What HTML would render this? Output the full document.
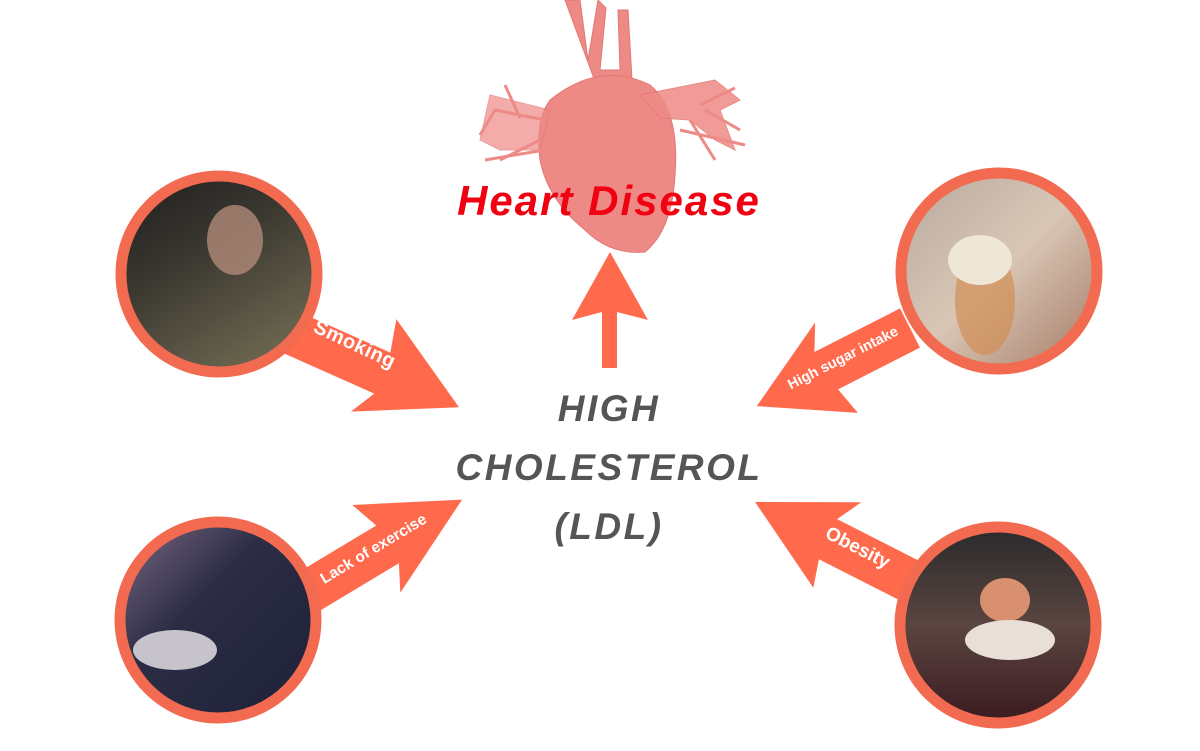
<!DOCTYPE html>
<html><head><meta charset="utf-8"><style>
html,body{margin:0;padding:0;background:#fff;}
svg{display:block;}
</style></head><body>
<svg width="1200" height="751" viewBox="0 0 1200 751" xmlns="http://www.w3.org/2000/svg">
<defs>
<linearGradient id="g1" x1="0" y1="0" x2="0.6" y2="1"><stop offset="0" stop-color="#1e1e1e"/><stop offset="0.45" stop-color="#3a3730"/><stop offset="1" stop-color="#6b654f"/></linearGradient>
<linearGradient id="g2" x1="0" y1="0" x2="1" y2="1"><stop offset="0" stop-color="#b8aaa0"/><stop offset="0.5" stop-color="#d9c6b5"/><stop offset="1" stop-color="#a57a65"/></linearGradient>
<linearGradient id="g3" x1="0" y1="0" x2="1" y2="1"><stop offset="0" stop-color="#7d6a85"/><stop offset="0.4" stop-color="#2c2d45"/><stop offset="1" stop-color="#1c2036"/></linearGradient>
<linearGradient id="g4" x1="0" y1="0" x2="0" y2="1"><stop offset="0" stop-color="#2a2a2c"/><stop offset="0.5" stop-color="#5a4540"/><stop offset="1" stop-color="#3a1a20"/></linearGradient>
</defs>
<!-- heart -->
<g fill="#ee8a86" stroke="#e27874" stroke-width="1">
<path d="M565 0 L580 0 L588 60 L598 0 L606 8 L600 70 L620 70 L618 10 L628 10 L632 80 L600 95 Z"/>
<path d="M550 100 Q600 60 650 85 Q680 110 675 175 Q672 230 645 252 Q610 255 585 230 Q548 200 540 160 Q535 120 550 100 Z"/>
<path d="M640 95 L715 80 L740 100 L720 110 L735 150 L715 140 L690 120 L660 118 Z" opacity="0.85"/>
<path d="M550 110 L490 95 L480 140 L500 150 L540 150 Z" opacity="0.7"/>
</g>
<g stroke="#ee8a86" stroke-width="3" fill="none">
<path d="M545 120 L495 110 L480 135"/><path d="M540 140 L500 160"/><path d="M520 118 L505 85"/>
<path d="M700 105 L735 88"/><path d="M705 110 L740 130"/><path d="M690 120 L715 160"/>
<path d="M545 150 L485 160"/><path d="M680 130 L745 145"/>
</g>
<text x="609" y="215" text-anchor="middle" font-family="Liberation Sans, sans-serif" font-weight="bold" font-style="italic" font-size="42" fill="#f00010" letter-spacing="2">Heart Disease</text>
<!-- up arrow -->
<polygon fill="#ff6a4d" points="610,252 648,320 617,312 617,368 602,368 602,312 572,320"/>
<!-- side arrows -->
<g fill="#ff6a4d">
<g transform="translate(290,332) rotate(24)"><polygon points="0,-22 100,-22 92,-55 185,0 88,48 102,22 0,22"/></g>
<g transform="translate(910,328) rotate(153)"><polygon points="0,-22 92,-22 85,-52 172,0 82,48 96,22 0,22"/></g>
<g transform="translate(295,600) rotate(-31)"><polygon points="0,-22 108,-22 98,-52 195,0 94,48 108,22 0,22"/></g>
<g transform="translate(918,585) rotate(-153)"><polygon points="0,-22 100,-22 92,-50 183,0 88,48 102,22 0,22"/></g>
</g>
<g font-family="Liberation Sans, sans-serif" font-weight="bold" fill="#fff">
<text transform="translate(352,350) rotate(25)" text-anchor="middle" font-size="20" letter-spacing="0.5">Smoking</text>
<text transform="translate(845,362) rotate(-27)" text-anchor="middle" font-size="14.5">High sugar intake</text>
<text transform="translate(376,553) rotate(-31)" text-anchor="middle" font-size="15.5">Lack of exercise</text>
<text transform="translate(855,553) rotate(27)" text-anchor="middle" font-size="19">Obesity</text>
</g>
<!-- circles -->
<circle cx="219" cy="274" r="98" fill="url(#g1)" stroke="#f26a4f" stroke-width="11"/>
<circle cx="999" cy="271" r="98" fill="url(#g2)" stroke="#f26a4f" stroke-width="11"/>
<circle cx="218" cy="620" r="98" fill="url(#g3)" stroke="#f26a4f" stroke-width="11"/>
<circle cx="998" cy="625" r="98" fill="url(#g4)" stroke="#f26a4f" stroke-width="11"/>
<!-- photo hints -->
<ellipse cx="235" cy="240" rx="28" ry="35" fill="#b08a78" opacity="0.8"/>
<ellipse cx="985" cy="300" rx="30" ry="55" fill="#d28f56" opacity="0.7"/>
<ellipse cx="980" cy="260" rx="32" ry="25" fill="#eee6d6"/>
<ellipse cx="175" cy="650" rx="42" ry="20" fill="#d8d4da" opacity="0.9"/>
<ellipse cx="1005" cy="600" rx="25" ry="22" fill="#d89070"/>
<ellipse cx="1010" cy="640" rx="45" ry="20" fill="#e8e0d8"/>
<!-- center text -->
<g font-family="Liberation Sans, sans-serif" font-weight="bold" font-style="italic" fill="#555" text-anchor="middle" font-size="37" letter-spacing="2.5">
<text x="609" y="421">HIGH</text>
<text x="609" y="480">CHOLESTEROL</text>
<text x="609" y="539">(LDL)</text>
</g>
</svg>
</body></html>
